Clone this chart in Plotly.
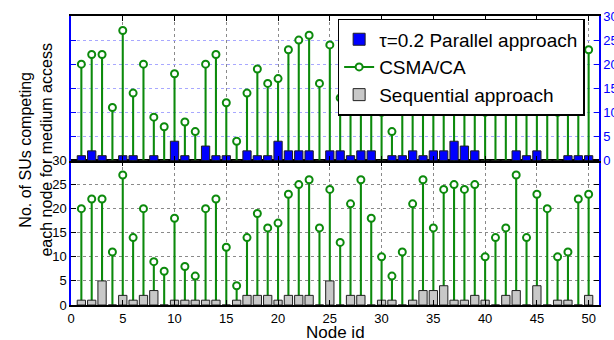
import plotly.graph_objects as go

# ---- data ----
nodes = list(range(1, 51))
csma = [20, 22, 22, 11, 27, 14, 20, 9, 7, 18,
        8, 6, 20, 22, 12, 4, 14, 19, 16, 17,
        23, 25, 26, 16, 24, 13, 21, 26, 18, 10,
        6, 11, 21, 26, 16, 24, 25, 24, 25, 10,
        14, 16, 27, 14, 23, 20, 10, 11, 22, 23]
parallel = [1, 2, 1, 0, 1, 1, 0, 1, 0, 4,
            1, 0, 3, 1, 1, 0, 2, 1, 1, 4,
            2, 2, 2, 0, 2, 2, 1, 2, 2, 0,
            1, 1, 2, 1, 2, 2, 4, 3, 2, 0,
            0, 0, 2, 1, 2, 0, 0, 1, 1, 1]
sequential = [1, 1, 5, 0, 2, 1, 2, 3, 0, 1,
              1, 1, 1, 1, 0, 1, 2, 2, 2, 1,
              2, 2, 2, 0, 5, 0, 2, 2, 0, 1,
              1, 0, 1, 3, 3, 4, 1, 1, 2, 1,
              0, 2, 3, 0, 4, 0, 1, 1, 0, 2]
x_ticks = [0, 5, 10, 15, 20, 25, 30, 35, 40, 45, 50]
y_ticks = [0, 5, 10, 15, 20, 25, 30]
names = ["\u03c4=0.2 Parallel approach", "CSMA/CA", "Sequential approach"]

GREEN = "#0c8a0c"
BLUE = "#0000ff"
GRAY = "#c8c8c8"

fig = go.Figure()

for xa, ya, bars, bcol, nm, rank in [("x2", "y2", parallel, BLUE, names[0], 1),
                                     ("x", "y", sequential, GRAY, names[2], 3)]:
    # stems (drawn as thin bars so the data bars cover them)
    fig.add_trace(go.Bar(x=nodes, y=csma, width=0.2, xaxis=xa, yaxis=ya,
                         marker=dict(color=GREEN, line=dict(width=0)),
                         showlegend=False, hoverinfo="skip"))
    fig.add_trace(go.Bar(x=nodes, y=bars, width=0.8, xaxis=xa, yaxis=ya, name=nm,
                         marker=dict(color=bcol, line=dict(color="#202020", width=1)),
                         legendrank=rank, hoverinfo="skip"))
    fig.add_trace(go.Scatter(x=nodes, y=csma, mode="markers", xaxis=xa, yaxis=ya,
                             marker=dict(symbol="circle", size=7, color="white",
                                         line=dict(color=GREEN, width=2)),
                             showlegend=False, hoverinfo="skip", cliponaxis=False))

# legend entry for CSMA/CA
fig.add_trace(go.Scatter(x=[None], y=[None], mode="lines+markers", name=names[1],
                         line=dict(color=GREEN, width=2),
                         marker=dict(symbol="circle", size=7, color="white",
                                     line=dict(color=GREEN, width=2)),
                         legendrank=2, xaxis="x2", yaxis="y2"))

FONT = "Liberation Sans, Arial, sans-serif"
common_x = dict(range=[0, 51], tickvals=x_ticks, ticks="inside", ticklen=5,
                tickcolor="black", showline=True, linecolor="black", linewidth=2,
                mirror="ticks", showgrid=True, gridcolor="#8a8a8a", griddash="dot",
                gridwidth=1, zeroline=False, automargin=False)
common_y = dict(range=[0, 30], tickvals=y_ticks, ticks="inside", ticklen=5,
                showline=True, linecolor=BLUE, linewidth=1.5, mirror="ticks",
                showgrid=True, griddash="dot", gridwidth=1, zeroline=False,
                automargin=False)

fig.update_layout(
    width=614, height=340,
    margin=dict(l=71, r=15, t=16, b=35),
    template="none",
    plot_bgcolor="white", paper_bgcolor="white",
    barmode="overlay",
    font=dict(family=FONT, size=13, color="black"),
    xaxis=dict(common_x, anchor="y", domain=[0, 1], showticklabels=True),
    yaxis=dict(common_y, anchor="x", domain=[0, 0.5], gridcolor="#8a8a8a",
               tickcolor="black", tickfont=dict(color="black", size=13)),
    xaxis2=dict(common_x, anchor="y2", domain=[0, 1], matches="x", showticklabels=False),
    yaxis2=dict(common_y, anchor="x2", domain=[0.5, 1], side="right",
                gridcolor="#a8a8ff", tickcolor=BLUE,
                tickfont=dict(color=BLUE, size=13)),
    legend=dict(x=0.505, y=0.99, xanchor="left", yanchor="top",
                bgcolor="white", bordercolor="black", borderwidth=1.5,
                font=dict(size=19, family=FONT), tracegroupgap=0,
                itemwidth=30),
    annotations=[
        dict(text="Node id", x=0.5, y=-0.095, xref="paper", yref="paper",
             xanchor="center", yanchor="middle", showarrow=False,
             font=dict(size=17, family=FONT)),
        dict(text="No. of SUs competing<br>each node for medium access",
             x=-0.066, y=0.535, xref="paper", yref="paper", textangle=-90,
             xanchor="center", yanchor="middle", showarrow=False,
             font=dict(size=16, family=FONT)),
    ],
)

fig.write_html("out.html")
